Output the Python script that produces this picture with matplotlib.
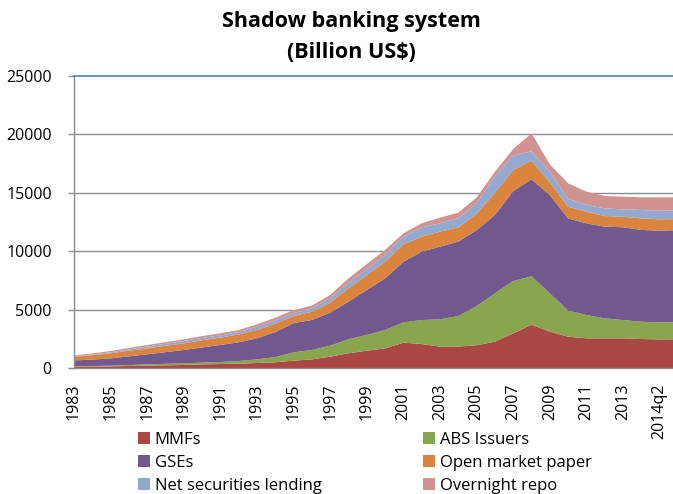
import matplotlib
matplotlib.use("Agg")
import matplotlib.pyplot as plt
from matplotlib.patches import Patch
import numpy as np

plt.rcParams['font.family'] = ['Open Sans', 'DejaVu Sans']

# Categories: annual 1983-2013, then quarterly for 2014
categories = [str(y) for y in range(1983, 2014)] + ["2014q1", "2014q2", "2014q3"]

# Billion US$
mmfs = [100, 120, 140, 170, 200, 230, 260, 310, 340, 370, 430, 490,
        630, 740, 970, 1260, 1480, 1680, 2170, 2050, 1830, 1830, 1950, 2250,
        2970, 3700, 3110, 2680, 2540, 2540, 2540, 2480, 2450, 2460]
abs_issuers = [40, 50, 60, 80, 110, 130, 140, 150, 170, 230, 310, 440,
               710, 800, 940, 1200, 1350, 1570, 1740, 2060, 2340, 2620, 3350, 4140,
               4480, 4150, 3280, 2230, 2000, 1710, 1570, 1480, 1460, 1440]
gses = [510, 550, 620, 750, 860, 1000, 1140, 1300, 1460, 1600, 1800, 2150,
        2510, 2570, 2830, 3220, 3850, 4430, 5190, 5850, 6220, 6370, 6500, 6710,
        7700, 8310, 8410, 7900, 7850, 7850, 7940, 7860, 7850, 7900]
open_market_paper = [300, 380, 440, 480, 510, 540, 570, 620, 630, 680, 710, 720,
                     600, 710, 850, 1140, 1280, 1420, 1490, 1280, 1280, 1220, 1400, 1900,
                     1800, 1590, 1100, 1000, 990, 910, 900, 990, 970, 950]
net_sec_lending = [50, 60, 80, 120, 150, 170, 200, 200, 200, 200, 290, 270,
                   250, 290, 380, 480, 520, 570, 650, 800, 720, 780, 900, 1400,
                   1250, 800, 900, 660, 580, 660, 630, 720, 740, 750]
overnight_repo = [80, 90, 110, 120, 140, 140, 140, 160, 170, 170, 200, 240,
                  250, 240, 280, 380, 420, 430, 290, 350, 480, 480, 500, 400,
                  550, 1540, 650, 1340, 1140, 1060, 1090, 1080, 1140, 1120]

series_names = ["MMFs", "ABS Issuers", "GSEs", "Open market paper",
                "Net securities lending", "Overnight repo"]
colors = ["#AA4643", "#89A54E", "#71588F", "#DB843D", "#93A9CF", "#D19392"]

W, H = 673, 494
fig = plt.figure(figsize=(W / 100, H / 100), dpi=100)

# Plot area (pixel geometry); the category axis runs past the right edge
left_px, right_px, top_px, bottom_px = 74, 677.9, 76, 368
ax = fig.add_axes([left_px / W, 1 - bottom_px / H,
                   (right_px - left_px) / W, (bottom_px - top_px) / H])

x = np.arange(len(categories))
ax.stackplot(x, mmfs, abs_issuers, gses, open_market_paper, net_sec_lending,
             overnight_repo, colors=colors, linewidth=0)

ax.set_xlim(0, len(categories) - 1)
ax.set_ylim(0, 25000)
ax.set_yticks(range(0, 25001, 5000))
for v in range(5000, 25000, 5000):
    ax.axhline(v, color="#8C8C8C", linewidth=1.0, zorder=0.5)
ax.axhline(25000, color="#4F81BD", linewidth=1.2, zorder=3, clip_on=False)

for side in ("top", "right"):
    ax.spines[side].set_visible(False)
for side in ("left", "bottom"):
    ax.spines[side].set_color("#8C8C8C")
    ax.spines[side].set_linewidth(1.0)

tick_idx = list(range(0, 31, 2)) + [32]
ax.set_xticks(tick_idx)
ax.set_xticklabels([categories[i] for i in tick_idx], rotation=90,
                   fontsize=11.5, color="#000000")
ax.tick_params(axis="x", length=0, pad=11)
ax.tick_params(axis="y", length=4, width=1, color="#8C8C8C", pad=12,
               labelsize=11.5, labelcolor="#000000")

fig.text(351 / W, 1 - 22 / H, "Shadow banking system", ha="center",
         va="center", fontsize=15.5, fontweight="bold")
fig.text(351 / W, 1 - 52 / H, "(Billion US$)", ha="center",
         va="center", fontsize=15.5, fontweight="bold")

handles = [Patch(facecolor=c, edgecolor="none") for c in colors]
order = [0, 2, 4, 1, 3, 5]
fig.legend([handles[i] for i in order], [series_names[i] for i in order],
           ncol=2, loc="upper left", bbox_to_anchor=(138 / W, 1 - 432 / H),
           frameon=False, fontsize=12, handlelength=0.7, handleheight=0.7,
           handletextpad=0.3, columnspacing=6.1, labelspacing=0.42,
           borderaxespad=0, borderpad=0)

fig.savefig("out.png", dpi=100)
